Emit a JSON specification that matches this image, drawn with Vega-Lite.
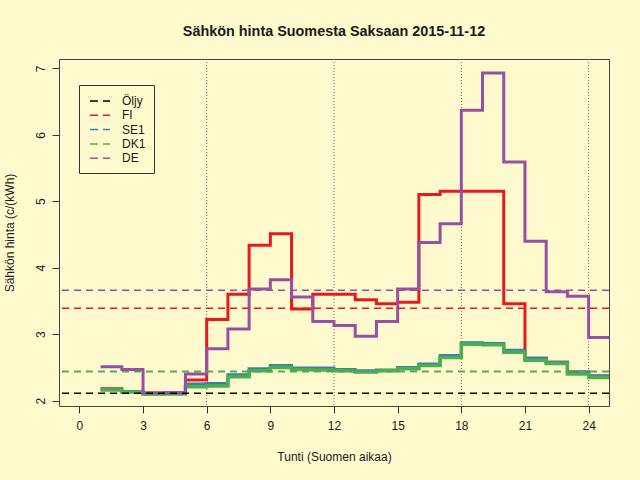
{
  "$schema": "https://vega.github.io/schema/vega-lite/v6.json",
  "width": 550,
  "height": 347,
  "autosize": {"type": "none"},
  "padding": {"left": 59, "top": 59, "right": 31, "bottom": 74},
  "background": "#FFFACD",
  "title": {
    "text": "Sähkön hinta Suomesta Saksaan 2015-11-12",
    "font": "Liberation Sans",
    "fontSize": 14.4,
    "fontWeight": "bold",
    "color": "#1a1a1a",
    "anchor": "middle",
    "offset": 19
  },
  "datasets": {
    "prices": [
      {"h": 1, "s": "FI", "p": 2.18}, {"h": 2, "s": "FI", "p": 2.14}, {"h": 3, "s": "FI", "p": 2.11}, {"h": 4, "s": "FI", "p": 2.12},
      {"h": 5, "s": "FI", "p": 2.31}, {"h": 6, "s": "FI", "p": 3.22}, {"h": 7, "s": "FI", "p": 3.60}, {"h": 8, "s": "FI", "p": 4.34},
      {"h": 9, "s": "FI", "p": 4.51}, {"h": 10, "s": "FI", "p": 3.38}, {"h": 11, "s": "FI", "p": 3.60}, {"h": 12, "s": "FI", "p": 3.60},
      {"h": 13, "s": "FI", "p": 3.52}, {"h": 14, "s": "FI", "p": 3.46}, {"h": 15, "s": "FI", "p": 3.48}, {"h": 16, "s": "FI", "p": 5.10},
      {"h": 17, "s": "FI", "p": 5.15}, {"h": 18, "s": "FI", "p": 5.15}, {"h": 19, "s": "FI", "p": 5.15}, {"h": 20, "s": "FI", "p": 3.46},
      {"h": 21, "s": "FI", "p": 2.64}, {"h": 22, "s": "FI", "p": 2.58}, {"h": 23, "s": "FI", "p": 2.43}, {"h": 24, "s": "FI", "p": 2.37},
      {"h": 25, "s": "FI", "p": 2.37},
      {"h": 1, "s": "SE1", "p": 2.17}, {"h": 2, "s": "SE1", "p": 2.14}, {"h": 3, "s": "SE1", "p": 2.10}, {"h": 4, "s": "SE1", "p": 2.11},
      {"h": 5, "s": "SE1", "p": 2.25}, {"h": 6, "s": "SE1", "p": 2.26}, {"h": 7, "s": "SE1", "p": 2.39}, {"h": 8, "s": "SE1", "p": 2.48},
      {"h": 9, "s": "SE1", "p": 2.53}, {"h": 10, "s": "SE1", "p": 2.49}, {"h": 11, "s": "SE1", "p": 2.49}, {"h": 12, "s": "SE1", "p": 2.47},
      {"h": 13, "s": "SE1", "p": 2.45}, {"h": 14, "s": "SE1", "p": 2.46}, {"h": 15, "s": "SE1", "p": 2.50}, {"h": 16, "s": "SE1", "p": 2.55},
      {"h": 17, "s": "SE1", "p": 2.68}, {"h": 18, "s": "SE1", "p": 2.87}, {"h": 19, "s": "SE1", "p": 2.86}, {"h": 20, "s": "SE1", "p": 2.76},
      {"h": 21, "s": "SE1", "p": 2.64}, {"h": 22, "s": "SE1", "p": 2.58}, {"h": 23, "s": "SE1", "p": 2.43}, {"h": 24, "s": "SE1", "p": 2.37},
      {"h": 25, "s": "SE1", "p": 2.37},
      {"h": 1, "s": "DK1", "p": 2.16}, {"h": 2, "s": "DK1", "p": 2.13}, {"h": 3, "s": "DK1", "p": 2.10}, {"h": 4, "s": "DK1", "p": 2.10},
      {"h": 5, "s": "DK1", "p": 2.21}, {"h": 6, "s": "DK1", "p": 2.22}, {"h": 7, "s": "DK1", "p": 2.36}, {"h": 8, "s": "DK1", "p": 2.45},
      {"h": 9, "s": "DK1", "p": 2.50}, {"h": 10, "s": "DK1", "p": 2.47}, {"h": 11, "s": "DK1", "p": 2.46}, {"h": 12, "s": "DK1", "p": 2.45},
      {"h": 13, "s": "DK1", "p": 2.43}, {"h": 14, "s": "DK1", "p": 2.45}, {"h": 15, "s": "DK1", "p": 2.48}, {"h": 16, "s": "DK1", "p": 2.53},
      {"h": 17, "s": "DK1", "p": 2.65}, {"h": 18, "s": "DK1", "p": 2.85}, {"h": 19, "s": "DK1", "p": 2.84}, {"h": 20, "s": "DK1", "p": 2.73},
      {"h": 21, "s": "DK1", "p": 2.61}, {"h": 22, "s": "DK1", "p": 2.56}, {"h": 23, "s": "DK1", "p": 2.40}, {"h": 24, "s": "DK1", "p": 2.35},
      {"h": 25, "s": "DK1", "p": 2.35},
      {"h": 1, "s": "DE", "p": 2.51}, {"h": 2, "s": "DE", "p": 2.47}, {"h": 3, "s": "DE", "p": 2.12}, {"h": 4, "s": "DE", "p": 2.12},
      {"h": 5, "s": "DE", "p": 2.40}, {"h": 6, "s": "DE", "p": 2.78}, {"h": 7, "s": "DE", "p": 3.08}, {"h": 8, "s": "DE", "p": 3.68},
      {"h": 9, "s": "DE", "p": 3.82}, {"h": 10, "s": "DE", "p": 3.56}, {"h": 11, "s": "DE", "p": 3.19}, {"h": 12, "s": "DE", "p": 3.13},
      {"h": 13, "s": "DE", "p": 2.97}, {"h": 14, "s": "DE", "p": 3.19}, {"h": 15, "s": "DE", "p": 3.68}, {"h": 16, "s": "DE", "p": 4.38},
      {"h": 17, "s": "DE", "p": 4.66}, {"h": 18, "s": "DE", "p": 6.37}, {"h": 19, "s": "DE", "p": 6.93}, {"h": 20, "s": "DE", "p": 5.59},
      {"h": 21, "s": "DE", "p": 4.40}, {"h": 22, "s": "DE", "p": 3.64}, {"h": 23, "s": "DE", "p": 3.57}, {"h": 24, "s": "DE", "p": 2.95},
      {"h": 25, "s": "DE", "p": 2.95}
    ],
    "means": [
      {"s": "Öljy", "p": 2.11},
      {"s": "FI", "p": 3.39},
      {"s": "SE1", "p": 2.44},
      {"s": "DK1", "p": 2.44},
      {"s": "DE", "p": 3.66}
    ],
    "marks": [{"h": 6}, {"h": 12}, {"h": 18}, {"h": 24}]
  },
  "layer": [
    {
      "data": {"name": "marks"},
      "mark": {"type": "rule", "color": "#666666", "strokeWidth": 1, "strokeDash": [1, 2]},
      "encoding": {
        "x": {"field": "h", "type": "quantitative", "scale": {"domain": [-0.96, 24.96], "nice": false, "zero": false}}
      }
    },
    {
      "data": {"name": "prices"},
      "transform": [{"filter": "datum.s == 'FI'"}],
      "mark": {"type": "line", "interpolate": "step-after", "strokeWidth": 3, "clip": true},
      "encoding": {
        "x": {"field": "h", "type": "quantitative", "title": "Tunti (Suomen aikaa)", "axis": {"values": [0, 3, 6, 9, 12, 15, 18, 21, 24], "format": "d"}},
        "y": {"field": "p", "type": "quantitative", "title": "Sähkön hinta (c/(kWh)", "scale": {"domain": [1.92, 7.14], "nice": false, "zero": false}, "axis": {"values": [2, 3, 4, 5, 6, 7], "format": "d"}},
        "color": {"field": "s", "type": "nominal"}
      }
    },
    {
      "data": {"name": "prices"},
      "transform": [{"filter": "datum.s == 'SE1'"}],
      "mark": {"type": "line", "interpolate": "step-after", "strokeWidth": 3, "clip": true},
      "encoding": {
        "x": {"field": "h", "type": "quantitative"},
        "y": {"field": "p", "type": "quantitative"},
        "color": {"field": "s", "type": "nominal"}
      }
    },
    {
      "data": {"name": "prices"},
      "transform": [{"filter": "datum.s == 'DK1'"}],
      "mark": {"type": "line", "interpolate": "step-after", "strokeWidth": 3.5, "clip": true},
      "encoding": {
        "x": {"field": "h", "type": "quantitative"},
        "y": {"field": "p", "type": "quantitative"},
        "color": {"field": "s", "type": "nominal"}
      }
    },
    {
      "data": {"name": "prices"},
      "transform": [{"filter": "datum.s == 'DE'"}],
      "mark": {"type": "line", "interpolate": "step-after", "strokeWidth": 3, "clip": true},
      "encoding": {
        "x": {"field": "h", "type": "quantitative"},
        "y": {"field": "p", "type": "quantitative"},
        "color": {"field": "s", "type": "nominal"}
      }
    },
    {
      "data": {"name": "means"},
      "mark": {"type": "rule", "strokeWidth": 1.5, "strokeDash": [7, 5]},
      "encoding": {
        "y": {"field": "p", "type": "quantitative"},
        "color": {
          "field": "s",
          "type": "nominal",
          "scale": {
            "domain": ["Öljy", "FI", "SE1", "DK1", "DE"],
            "range": ["#000000", "#E41A1C", "#377EB8", "#4DAF4A", "#984EA3"]
          },
          "legend": {
            "title": null,
            "orient": "none",
            "legendX": 20,
            "legendY": 26
          }
        }
      }
    }
  ],
  "config": {
    "font": "Liberation Sans",
    "view": {"stroke": "#444444", "strokeWidth": 1},
    "axis": {
      "grid": false,
      "domain": false,
      "tickColor": "#333333",
      "tickSize": 7,
      "labelFont": "Liberation Sans",
      "labelFontSize": 12,
      "labelColor": "#1a1a1a",
      "titleFont": "Liberation Sans",
      "titleFontSize": 12,
      "titleFontWeight": "normal",
      "titleColor": "#1a1a1a"
    },
    "axisX": {"labelPadding": 7, "titlePadding": 20},
    "axisY": {"labelAngle": -90, "labelAlign": "center", "labelBaseline": "bottom", "labelPadding": 5, "titlePadding": 18},
    "legend": {
      "strokeColor": "#333333",
      "fillColor": "#FFFACD",
      "padding": 8,
      "symbolType": "M-0.714,0H0.429M1.143,0H2.143",
      "symbolSize": 196,
      "symbolStrokeWidth": 1.5,
      "symbolFillColor": "transparent",
      "labelFont": "Liberation Sans",
      "labelFontSize": 12,
      "labelColor": "#1a1a1a",
      "labelOffset": 19,
      "rowPadding": 0.3
    }
  }
}
